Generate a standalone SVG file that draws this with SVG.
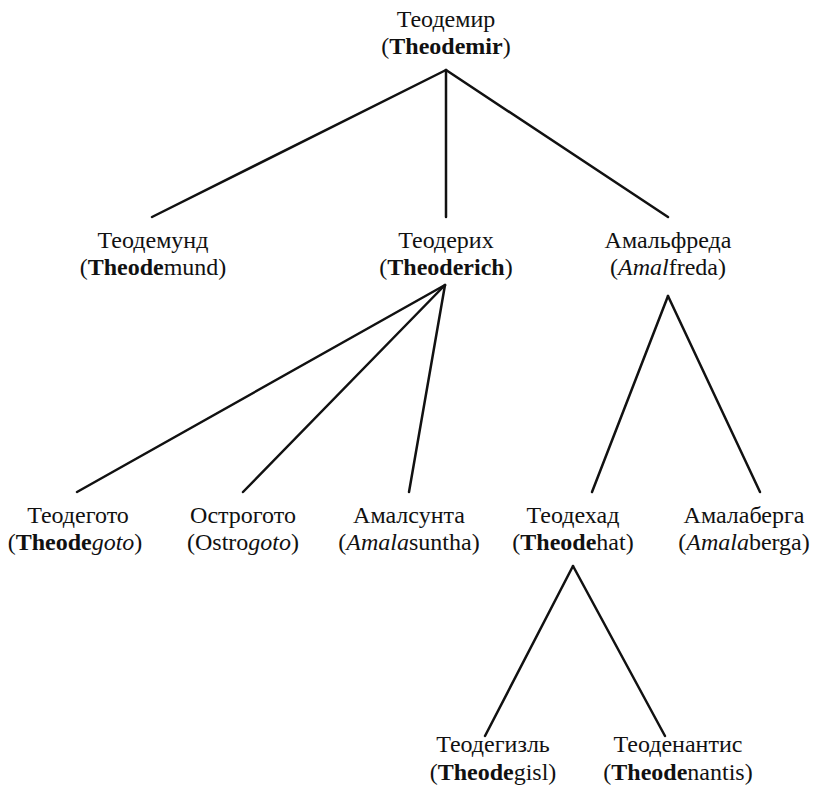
<svg xmlns="http://www.w3.org/2000/svg" width="839" height="798" viewBox="0 0 839 798">
<style>
text{font-family:'Liberation Serif','Times New Roman',serif;font-size:24px;fill:#111;text-anchor:middle}
.b{font-weight:bold}
.i{font-style:italic}
.c line{stroke:#111;stroke-width:2.5;stroke-linecap:round}
</style>
<rect width="839" height="798" fill="#fff"/>
<g class="c" id="connectors">
<line x1="446" y1="70" x2="152" y2="217"/>
<line x1="446" y1="70" x2="446" y2="217"/>
<line x1="446" y1="70" x2="668" y2="217"/>
<line x1="445" y1="285" x2="77" y2="492"/>
<line x1="445" y1="285" x2="243" y2="492"/>
<line x1="445" y1="285" x2="409" y2="492"/>
<line x1="668" y1="296" x2="592" y2="492"/>
<line x1="668" y1="296" x2="760" y2="492"/>
<line x1="573" y1="566" x2="485" y2="736"/>
<line x1="573" y1="566" x2="665" y2="736"/>
</g>
<g id="theodemir"><text x="446" y="27">Теодемир</text><text x="446" y="54">(<tspan class="b">Theodemir</tspan>)</text></g>
<g id="theodemund"><text x="153" y="248">Теодемунд</text><text x="153" y="275">(<tspan class="b">Theode</tspan>mund)</text></g>
<g id="theoderich"><text x="446" y="248">Теодерих</text><text x="446" y="275">(<tspan class="b">Theoderich</tspan>)</text></g>
<g id="amalfreda"><text x="668" y="248">Амальфреда</text><text x="668" y="275">(<tspan class="i">Amal</tspan>freda)</text></g>
<g id="theodegoto"><text x="78" y="523">Теодегото</text><text x="75" y="550">(<tspan class="b">Theode</tspan><tspan class="i">goto</tspan>)</text></g>
<g id="ostrogoto"><text x="243" y="523">Острогото</text><text x="243" y="550">(Ostro<tspan class="i">goto</tspan>)</text></g>
<g id="amalasuntha"><text x="409" y="523">Амалсунта</text><text x="409" y="550">(<tspan class="i">Amala</tspan>suntha)</text></g>
<g id="theodehat"><text x="573" y="523">Теодехад</text><text x="573" y="550">(<tspan class="b">Theode</tspan>hat)</text></g>
<g id="amalaberga"><text x="744" y="523">Амалаберга</text><text x="744" y="550">(<tspan class="i">Amala</tspan>berga)</text></g>
<g id="theodegisl"><text x="493" y="752">Теодегизль</text><text x="493" y="780">(<tspan class="b">Theode</tspan>gisl)</text></g>
<g id="theodenantis"><text x="678" y="752">Теоденантис</text><text x="678" y="780">(<tspan class="b">Theode</tspan>nantis)</text></g>
</svg>
